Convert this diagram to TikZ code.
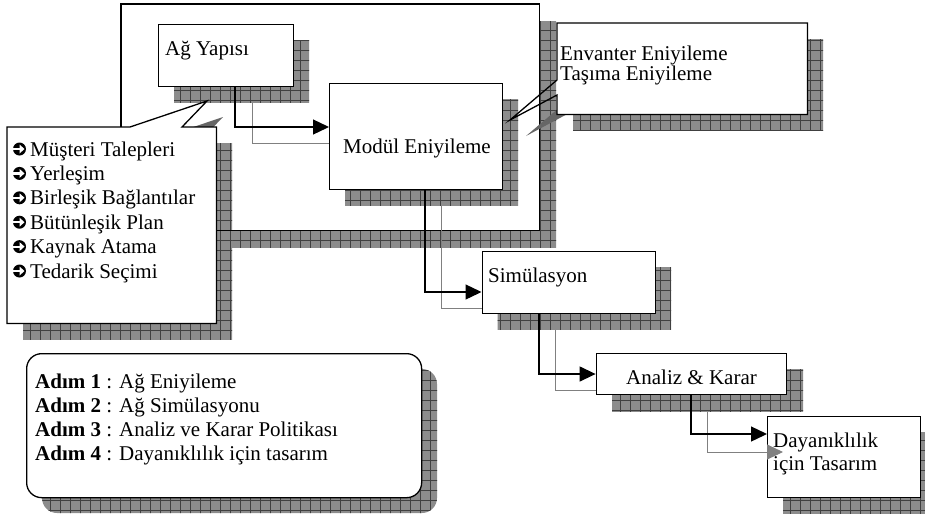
\documentclass[tikz,border=0pt]{standalone}
\usepackage{fontspec}
\setmainfont{Liberation Serif}
\usetikzlibrary{arrows.meta,calc}
\newcommand\gridshadow[2][]{\begin{scope}\clip[#1] #2; \fill[black!45] (0,0) rectangle (940,520); \draw[black!75,line width=0.6pt,step=10pt] (0,0) grid (940,520);\end{scope}}
\newcommand\lns[1]{\begin{tabular}[t]{@{}l@{}}#1\end{tabular}}
\begin{document}
\begin{tikzpicture}[x=1pt,y=-1pt,line join=miter]
\tikzset{
 bx/.style={draw, line width=1.3pt, fill=white, inner sep=0pt, anchor=north west},
 ghost/.style={inner sep=0pt, anchor=north west},
 txt/.style={inner sep=0pt, anchor=base west, align=left, font=\fontsize{21}{24}\selectfont},
 conn/.style={line width=1.3pt, -{Triangle[length=16pt,width=15pt]}},
 sconn/.style={line width=0.9pt, black!50},
 outl/.style={line width=1.3pt},
 bltdot/.style={circle, fill=black, inner sep=0pt, minimum size=13pt},
}
\useasboundingbox (0,0) rectangle (925,515);
% big frame
\gridshadow{(138,21) rectangle (556,247)}
\node[ghost, fill=white, minimum width=418pt, minimum height=226pt] (frame) at (121,4) {};
% inner shadows
\gridshadow{(174,40) rectangle (309,102)}
\gridshadow{(345,99) rectangle (518,205)}
% left callout shadow
\gridshadow{(23,143) rectangle (232,339)}
\fill[black!60] (146,143) -- (223,117) -- (198,143) -- cycle;
\draw[outl] (frame.north west) rectangle (frame.south east);
% top right callout shadow
\gridshadow{(573,39) rectangle (823,130)}
\fill[black!60] (573,96) -- (526,136) -- (573,111) -- cycle;
% chain shadows
\gridshadow{(497.5,267) rectangle (671,329)}
\gridshadow{(612,369) rectangle (803,411)}
\gridshadow{(783,432) rectangle (936,513)}
\gridshadow[rounded corners=15pt]{(42,369) rectangle (437,513)}
% boxes
\node[bx, minimum width=135pt, minimum height=62pt] (agy) at (158,24) {};
\node[bx, minimum width=173pt, minimum height=106pt] (mod) at (329,83) {};
\node[bx, minimum width=173.5pt, minimum height=62pt] (sim) at (481.5,251) {};
\node[bx, minimum width=190.4pt, minimum height=41pt] (ana) at (595.6,353) {};
\node[bx, minimum width=152.5pt, minimum height=81pt] (day) at (767,416) {};
% connector shadows
\draw[sconn] ($(agy.south west)+(94,16)$) |- ($(mod.north west)+(0,60)$);
\draw[sconn] ($(mod.south west)+(112,16)$) |- ($(sim.north west)+(0,57)$);
\draw[sconn] ($(sim.south west)+(73.5,16)$) |- ($(ana.north west)+(0,37)$);
\draw[sconn, -{Triangle[length=16pt,width=15pt]}] ($(ana.south west)+(111.4,17)$) |- ($(day.north west)+(16,36)$);
% connectors
\draw[conn] ($(agy.south west)+(77,0)$) |- ($(mod.north west)+(0,44)$);
\draw[conn] ($(mod.south west)+(96,0)$) |- ($(sim.north west)+(0,41)$);
\draw[conn] ($(sim.south west)+(57.5,0)$) |- ($(ana.north west)+(0,21)$);
\draw[conn] ($(ana.south west)+(95.4,0)$) |- ($(day.north west)+(0,18)$);
% left callout
\node[ghost, minimum width=209pt, minimum height=196pt] (lst) at (7,127) {};
\coordinate (lsttip) at (207,101);
\draw[outl, fill=white] (lst.north west) -- ($(lst.north west)+(123,0)$) -- (lsttip) -- ($(lst.north west)+(175,0)$) -- (lst.north east) -- (lst.south east) -- (lst.south west) -- cycle;
% top right callout
\node[ghost, minimum width=250pt, minimum height=91pt] (inv) at (557,23) {};
\coordinate (invtip) at (510,120);
\fill[white] (inv.north west) rectangle (inv.south east);
\draw[outl] (inv.north west) -- (inv.north east) -- (inv.south east) -- (inv.south west) -- ($(inv.north west)+(0,72)$) -- (invtip) -- ($(inv.north west)+(0,57)$) -- cycle;
% rounded box
\node[ghost, fill=white, draw, line width=1.3pt, rounded corners=15pt, minimum width=395pt, minimum height=144pt] (leg) at (26,353) {};
% bullets
\foreach \i in {0,...,5}{
  \node[bltdot] (blt\i) at (19.5,{149+24.4*\i}) {};
  \draw[white, line width=2.2pt] (blt\i.west) -- ++(8,0);
  \fill[white] ($(blt\i.center)+(0,-4.5)$) -- ++(5,4.5) -- ++(-5,4.5) -- cycle;
}
% texts
\node[txt] (tagy) at (165,55) {Ağ Yapısı};
\node[txt] (tmod) at (343,153) {Modül Eniyileme};
\node[txt] (tsim) at (488,282) {Simülasyon};
\node[txt] (tana) at (626,384) {Analiz \& Karar};
\node[txt, font=\fontsize{21}{23}\selectfont] (tday) at (773,447) {\lns{Dayanıklılık\\için Tasarım}};
\node[txt, font=\fontsize{21}{20}\selectfont] (tinv) at (560,60) {\lns{Envanter Eniyileme\\Taşıma Eniyileme}};
\node[txt, font=\fontsize{21}{24.4}\selectfont] (tlst) at (30,156) {\lns{Müşteri Talepleri\\Yerleşim\\Birleşik Bağlantılar\\Bütünleşik Plan\\Kaynak Atama\\Tedarik Seçimi}};
\node[txt, font=\fontsize{21}{24.3}\selectfont] (tleg) at (35,388) {\lns{\textbf{Adım 1} : Ağ Eniyileme\\\textbf{Adım 2} : Ağ Simülasyonu\\\textbf{Adım 3} : Analiz ve Karar Politikası\\\textbf{Adım 4} : Dayanıklılık için tasarım}};
\end{tikzpicture}
\end{document}
